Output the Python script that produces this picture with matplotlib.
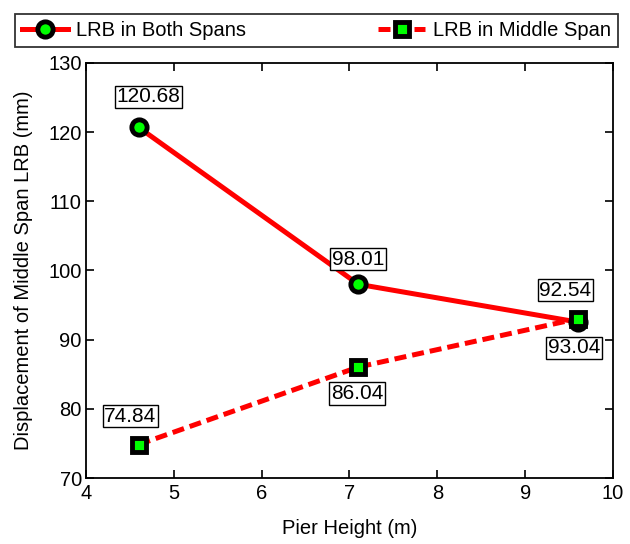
import matplotlib
matplotlib.use('Agg')
import matplotlib.pyplot as plt

plt.rcParams['font.family'] = ['Liberation Sans', 'DejaVu Sans']

# pier heights (m) and middle span LRB displacement (mm)
pier_height = [4.6, 7.1, 9.6]
both_spans = [120.68, 98.01, 92.54]
middle_span = [74.84, 86.04, 93.04]

# label offsets in points (dx, dy)
both_offsets = [(7, 22), (0, 18), (-9, 23)]
middle_offsets = [(-6, 20.5), (-1, -19), (-3, -21)]

fig = plt.figure(figsize=(6.3, 5.44), dpi=100)
ax = fig.add_axes([0.1365, 0.1213, 0.8365, 0.763])

l1, = ax.plot(pier_height, both_spans, '-', color='red', lw=3.6,
              marker='o', ms=11, mfc='#00ff00', mec='black', mew=3.5)
l2, = ax.plot(pier_height, middle_span, '--', color='red', lw=3.6,
              dashes=(2.4, 1.2), marker='s', ms=10.5, mfc='#00ff00', mec='black', mew=3.5)

box = dict(boxstyle='square,pad=0.08', fc='white', ec='black', lw=1)
for x, y, off in zip(pier_height, both_spans, both_offsets):
    ax.annotate(f'{y:.2f}', (x, y), xytext=off, textcoords='offset points',
                ha='center', va='center', fontsize=15, bbox=box)
for x, y, off in zip(pier_height, middle_span, middle_offsets):
    ax.annotate(f'{y:.2f}', (x, y), xytext=off, textcoords='offset points',
                ha='center', va='center', fontsize=15, bbox=box)

ax.set_xlim(4, 10)
ax.set_ylim(70, 130)
ax.set_xticks(range(4, 11))
ax.set_yticks(range(70, 131, 10))
ax.tick_params(direction='in', top=True, right=True, labelsize=14.5, length=6, width=1.2)
ax.tick_params(axis='x', pad=4)
ax.tick_params(axis='y', pad=3)
for s in ax.spines.values():
    s.set_linewidth(1.3)
ax.set_xlabel('Pier Height (m)', fontsize=14.5, labelpad=12)
ax.set_ylabel('Displacement of Middle Span LRB (mm)', fontsize=14.5, labelpad=11)

leg = fig.legend([l1, l2], ['LRB in Both Spans', 'LRB in Middle Span'],
                 bbox_to_anchor=(0.0238, 0.9136, 0.957, 0.0717), loc='lower left',
                 mode='expand', ncol=2, fontsize=14.5, frameon=True, fancybox=False,
                 borderaxespad=0, handlelength=2.3, handletextpad=0.4, borderpad=0.35)
leg.get_frame().set_edgecolor('black')
leg.get_frame().set_linewidth(1.3)

fig.savefig('out.png', dpi=100)
